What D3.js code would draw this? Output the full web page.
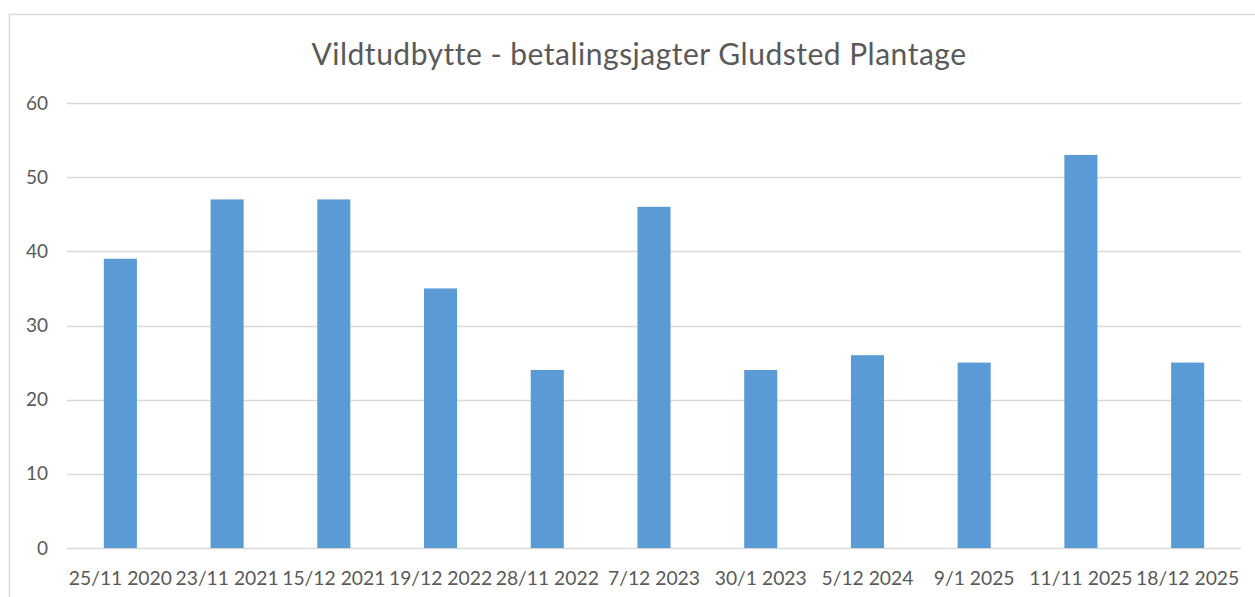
<!DOCTYPE html>
<html>
<head>
<meta charset="utf-8">
<script src="https://cdn.jsdelivr.net/npm/d3@7"></script>
<style>
  body { margin: 0; background: #fff; }
  svg { display: block; font-family: Lato, "Open Sans", sans-serif; }
</style>
</head>
<body>
<svg id="chart" width="1255" height="597"></svg>
<script>
// data
const dates = ["25/11 2020", "23/11 2021", "15/12 2021", "19/12 2022", "28/11 2022",
  "7/12 2023", "30/1 2023", "5/12 2024", "9/1 2025", "11/11 2025", "18/12 2025"];
const udbytte = [39, 47, 47, 35, 24, 46, 24, 26, 25, 53, 25];
const yTicks = [0, 10, 20, 30, 40, 50, 60];
const title = "Vildtudbytte - betalingsjagter Gludsted Plantage";

const svg = d3.select("#chart");
const W = 1255, H = 597;
const margin = { top: 103, right: 14, bottom: 49, left: 67 };

// outer frame
svg.append("rect")
  .attr("x", 9.5).attr("y", 14.5)
  .attr("width", W + 10).attr("height", H + 10)
  .attr("fill", "#fff")
  .attr("stroke", "#d9d9d9")
  .attr("stroke-width", 1.5);

const x = d3.scaleBand()
  .domain(dates)
  .range([margin.left, W - margin.right])
  .paddingInner(0.69)
  .paddingOuter(0.345);

const y = d3.scaleLinear()
  .domain([0, 60])
  .range([H - margin.bottom, margin.top]);

// gridlines
svg.append("g")
  .selectAll("line")
  .data(yTicks)
  .join("line")
  .attr("x1", margin.left)
  .attr("x2", W - margin.right)
  .attr("y1", d => Math.round(y(d)) + 0.5)
  .attr("y2", d => Math.round(y(d)) + 0.5)
  .attr("stroke", "#d9d9d9")
  .attr("stroke-width", 1.5);

// y tick labels
svg.append("g")
  .selectAll("text")
  .data(yTicks)
  .join("text")
  .attr("x", 48)
  .attr("y", d => y(d))
  .attr("dy", "0.35em")
  .attr("text-anchor", "end")
  .attr("font-size", 19)
  .attr("fill", "#595959")
  .text(d => d);

// bars
svg.append("g")
  .selectAll("rect")
  .data(udbytte)
  .join("rect")
  .attr("x", (d, i) => x(dates[i]))
  .attr("y", d => y(d))
  .attr("width", x.bandwidth())
  .attr("height", d => y(0) - y(d))
  .attr("fill", "#5b9bd5");

// x labels
svg.append("g")
  .selectAll("text")
  .data(dates)
  .join("text")
  .attr("x", d => x(d) + x.bandwidth() / 2)
  .attr("y", 585)
  .attr("text-anchor", "middle")
  .attr("font-size", 19.3)
  .attr("fill", "#595959")
  .text(d => d);

// title
svg.append("text")
  .attr("x", 639)
  .attr("y", 65)
  .attr("text-anchor", "middle")
  .attr("font-size", 30)
  .attr("letter-spacing", 0.5)
  .attr("fill", "#595959")
  .text(title);
</script>
</body>
</html>
